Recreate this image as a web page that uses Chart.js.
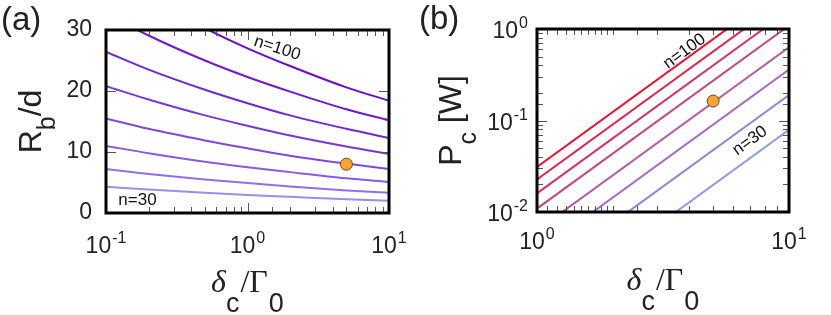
<!DOCTYPE html>
<html>
<head>
<meta charset="utf-8">
<script src="https://cdn.jsdelivr.net/npm/chart.js@4.4.1/dist/chart.umd.min.js"></script>
<style>
  html, body { margin: 0; padding: 0; background: #fff; }
  #wrap { position: relative; width: 831px; height: 315px; }
  canvas { position: absolute; top: 0; }
  #chart-a { left: 0; }
  #chart-b { left: 415px; }
</style>
</head>
<body>
<div id="wrap">
  <canvas id="chart-a" width="415" height="315"></canvas>
  <canvas id="chart-b" width="416" height="315"></canvas>
</div>
<script>
// Rydberg levels, one curve per n (lowest first)
const nLevels = [30, 40, 50, 60, 70, 80, 90, 100];

// Panel (a): blockade radius R_b/d vs detuning delta_c/Gamma_0
const detuningA = [0.1, 0.2, 0.5, 1, 2, 5, 10];
const rbN30 = [4.3, 3.85, 3.3, 2.95, 2.65, 2.25, 2.0];
const rbN40 = [7.2, 6.4, 5.5, 4.9, 4.35, 3.7, 3.3];
const rbN50 = [11.0, 9.8, 8.4, 7.5, 6.7, 5.7, 5.1];
const rbN60 = [15.5, 13.8, 11.9, 10.6, 9.4, 8.1, 7.2];
const rbN70 = [20.8, 18.6, 16.0, 14.3, 12.7, 10.9, 9.7];
const rbN80 = [26.4, 23.5, 20.2, 18.0, 16.0, 13.8, 12.3];
const rbN90 = [32.7, 29.1, 25.0, 22.3, 19.9, 17.0, 15.2];
const rbN100 = [39.6, 35.3, 30.3, 27.0, 24.1, 20.6, 18.4];
const rbSeries = [rbN30, rbN40, rbN50, rbN60, rbN70, rbN80, rbN90, rbN100];
const markerA = { x: 5, y: 8.0 };

// Panel (b): control power P_c [W] vs detuning
const detuningB = [1, 10];
const pcN30 = [0.00079, 0.079];
const pcN40 = [0.0019, 0.19];
const pcN50 = [0.0036, 0.36];
const pcN60 = [0.0063, 0.63];
const pcN70 = [0.0109, 1.09];
const pcN80 = [0.016, 1.6];
const pcN90 = [0.0227, 2.27];
const pcN100 = [0.031, 3.1];
const pcSeries = [pcN30, pcN40, pcN50, pcN60, pcN70, pcN80, pcN90, pcN100];
const markerB = { x: 5, y: 0.163 };

// Tick labels
const yTicksA = [0, 10, 20, 30];
const xExpA = [-1, 0, 1];
const xExpB = [0, 1];
const yExpB = [-2, -1, 0];

// Curve labels: [text, x, y, angle in degrees]
const notesA = [['n=100', 1.62, 27.0, 18], ['n=30', 0.167, 2.1, 0]];
const notesB = [['n=100', 3.85, 0.57, -36], ['n=30', 7.0, 0.06, -36]];

const colorsA = ['#9c8cee', '#9070e8', '#875be4', '#7f48e0', '#7836dc', '#7127d8', '#6c1ad4', '#680cd0'];
const colorsB = ['#8c9ce8', '#9482d2', '#a46cba', '#b65a9e', '#c44884', '#d4346a', '#e0224c', '#ea1030'];

const INK = '#222';
const SANS = '"Liberation Sans", Arial, sans-serif';
const SERIF = '"Liberation Serif", "Times New Roman", serif';

// draws a run of text pieces centred on x, each piece {t, font, dy}
function drawRuns(ctx, runs, cx, baseY) {
  let total = 0;
  runs.forEach((r) => { ctx.font = r.font; r.w = ctx.measureText(r.t).width; total += r.w + (r.gap || 0); });
  let x = cx - total / 2;
  runs.forEach((r) => {
    ctx.font = r.font;
    ctx.fillText(r.t, x, baseY + (r.dy || 0));
    x += r.w + (r.gap || 0);
  });
}

function drawPow(ctx, exp, x, baseY, align) {
  ctx.font = `23px ${SANS}`;
  const wb = ctx.measureText('10').width;
  ctx.font = `16px ${SANS}`;
  const sup = String(exp);
  const ws = ctx.measureText(sup).width;
  const total = wb + ws + 1;
  const x0 = align === 'right' ? x - total : x - total / 2;
  ctx.font = `23px ${SANS}`;
  ctx.fillText('10', x0, baseY);
  ctx.font = `16px ${SANS}`;
  ctx.fillText(sup, x0 + wb + 1, baseY - 10);
}

function isPow10(v) {
  const l = Math.log10(v);
  return Math.abs(l - Math.round(l)) < 1e-6;
}

// frame + inward ticks on all four sides
function drawFrame(chart, yIsLog) {
  const { ctx } = chart;
  const { left, right, top, bottom } = chart.chartArea;
  const xs = chart.scales.x;
  const ys = chart.scales.y;
  ctx.save();
  ctx.strokeStyle = '#555';
  ctx.lineWidth = 1;
  ctx.beginPath();
  xs.ticks.forEach((t) => {
    const px = Math.round(xs.getPixelForValue(t.value)) + 0.5;
    const len = isPow10(t.value) ? 10 : 6;
    ctx.moveTo(px, bottom); ctx.lineTo(px, bottom - len);
    ctx.moveTo(px, top); ctx.lineTo(px, top + len);
  });
  ys.ticks.forEach((t) => {
    const py = Math.round(ys.getPixelForValue(t.value)) + 0.5;
    const len = !yIsLog || isPow10(t.value) ? 10 : 6;
    ctx.moveTo(left, py); ctx.lineTo(left + len, py);
    ctx.moveTo(right, py); ctx.lineTo(right - len, py);
  });
  ctx.stroke();
  ctx.strokeStyle = '#000';
  ctx.lineWidth = 3;
  ctx.strokeRect(left, top, right - left, bottom - top);
  ctx.restore();
}

function drawNotes(chart, notes) {
  const { ctx } = chart;
  ctx.save();
  ctx.fillStyle = '#111';
  ctx.font = `17px ${SANS}`;
  ctx.textAlign = 'center';
  ctx.textBaseline = 'middle';
  notes.forEach(([t, x, y, a]) => {
    const px = chart.scales.x.getPixelForValue(x);
    const py = chart.scales.y.getPixelForValue(y);
    ctx.save();
    ctx.translate(px, py);
    ctx.rotate(a * Math.PI / 180);
    ctx.fillText(t, 0, 0);
    ctx.restore();
  });
  ctx.restore();
}

function xTitle(ctx, cx, baseY) {
  drawRuns(ctx, [
    { t: '\u03b4', font: `italic 32px ${SERIF}` },
    { t: 'c', font: `27px ${SANS}`, dy: 20, gap: 1 },
    { t: '/', font: `32px ${SERIF}` },
    { t: '\u0393', font: `32px ${SERIF}`, gap: 1 },
    { t: '0', font: `27px ${SANS}`, dy: 20 },
  ], cx, baseY);
}

const decorA = {
  id: 'decorA',
  afterDraw(chart) {
    const { ctx } = chart;
    const { left, right, top, bottom } = chart.chartArea;
    drawFrame(chart, false);
    drawNotes(chart, notesA);
    ctx.save();
    ctx.fillStyle = INK;
    ctx.textAlign = 'left';
    ctx.textBaseline = 'alphabetic';
    xExpA.forEach((e) => drawPow(ctx, e, chart.scales.x.getPixelForValue(10 ** e), bottom + 40, 'center'));
    xTitle(ctx, (left + right) / 2, 292);
    ctx.save();
    ctx.translate(41, (top + bottom) / 2);
    ctx.rotate(-Math.PI / 2);
    drawRuns(ctx, [
      { t: 'R', font: `32px ${SANS}` },
      { t: 'b', font: `25px ${SANS}`, dy: 14 },
      { t: '/d', font: `32px ${SANS}` },
    ], 0, 0);
    ctx.restore();
    ctx.font = `33px ${SANS}`;
    ctx.fillText('(a)', 1, 30);
    ctx.restore();
  },
};

const decorB = {
  id: 'decorB',
  afterDraw(chart) {
    const { ctx } = chart;
    const { left, right, top, bottom } = chart.chartArea;
    drawFrame(chart, true);
    drawNotes(chart, notesB);
    ctx.save();
    ctx.fillStyle = INK;
    ctx.textAlign = 'left';
    ctx.textBaseline = 'alphabetic';
    xExpB.forEach((e) => drawPow(ctx, e, chart.scales.x.getPixelForValue(10 ** e), bottom + 37, 'center'));
    yExpB.forEach((e) => drawPow(ctx, e, left - 9, chart.scales.y.getPixelForValue(10 ** e) + 9, 'right'));
    xTitle(ctx, (left + right) / 2, 290);
    ctx.save();
    ctx.translate(46, (top + bottom) / 2);
    ctx.rotate(-Math.PI / 2);
    drawRuns(ctx, [
      { t: 'P', font: `32px ${SANS}` },
      { t: 'c', font: `25px ${SANS}`, dy: 15 },
      { t: ' [W]', font: `32px ${SANS}` },
    ], 0, 0);
    ctx.restore();
    ctx.font = `33px ${SANS}`;
    ctx.fillText('(b)', 4, 29);
    ctx.restore();
  },
};

function markerSet(pt) {
  return {
    data: [pt],
    showLine: false,
    pointRadius: 6,
    pointBackgroundColor: '#f7a433',
    pointBorderColor: '#6b4a1a',
    pointBorderWidth: 1,
  };
}

// Panel (a)
new Chart(document.getElementById('chart-a'), {
  type: 'line',
  data: {
    datasets: [
      markerSet(markerA),
      ...rbSeries.map((s, i) => ({
        label: `n=${nLevels[i]}`,
        data: detuningA.map((x, j) => ({ x, y: s[j] })),
        borderColor: colorsA[i],
        borderWidth: 2,
        pointRadius: 0,
        cubicInterpolationMode: 'monotone',
      })),
    ],
  },
  options: {
    responsive: false,
    animation: false,
    events: [],
    layout: { padding: { top: 30, right: 26, left: 0, bottom: 0 } },
    scales: {
      x: {
        type: 'logarithmic',
        min: 0.1,
        max: 10,
        grid: { display: false },
        border: { display: false },
        ticks: { display: false },
        afterFit: (scale) => { scale.height = 102; },
      },
      y: {
        min: 0,
        max: 30,
        grid: { display: false },
        border: { display: false },
        afterBuildTicks: (scale) => { scale.ticks = yTicksA.map((v) => ({ value: v })); },
        ticks: {
          autoSkip: false,
          padding: 6,
          color: INK,
          font: { family: SANS, size: 23 },
        },
        afterFit: (scale) => { scale.width = 106; },
      },
    },
    plugins: { legend: { display: false }, tooltip: { enabled: false } },
  },
  plugins: [decorA],
});

// Panel (b)
new Chart(document.getElementById('chart-b'), {
  type: 'line',
  data: {
    datasets: [
      markerSet(markerB),
      ...pcSeries.map((s, i) => ({
        label: `n=${nLevels[i]}`,
        data: detuningB.map((x, j) => ({ x, y: s[j] })),
        borderColor: colorsB[i],
        borderWidth: 2,
        pointRadius: 0,
        tension: 0,
      })),
    ],
  },
  options: {
    responsive: false,
    animation: false,
    events: [],
    layout: { padding: { top: 29, right: 42, left: 0, bottom: 0 } },
    scales: {
      x: {
        type: 'logarithmic',
        min: 1,
        max: 10,
        grid: { display: false },
        border: { display: false },
        ticks: { display: false },
        afterFit: (scale) => { scale.height = 103; },
      },
      y: {
        type: 'logarithmic',
        min: 0.01,
        max: 1,
        grid: { display: false },
        border: { display: false },
        ticks: { display: false },
        afterFit: (scale) => { scale.width = 122; },
      },
    },
    plugins: { legend: { display: false }, tooltip: { enabled: false } },
  },
  plugins: [decorB],
});
</script>
</body>
</html>
